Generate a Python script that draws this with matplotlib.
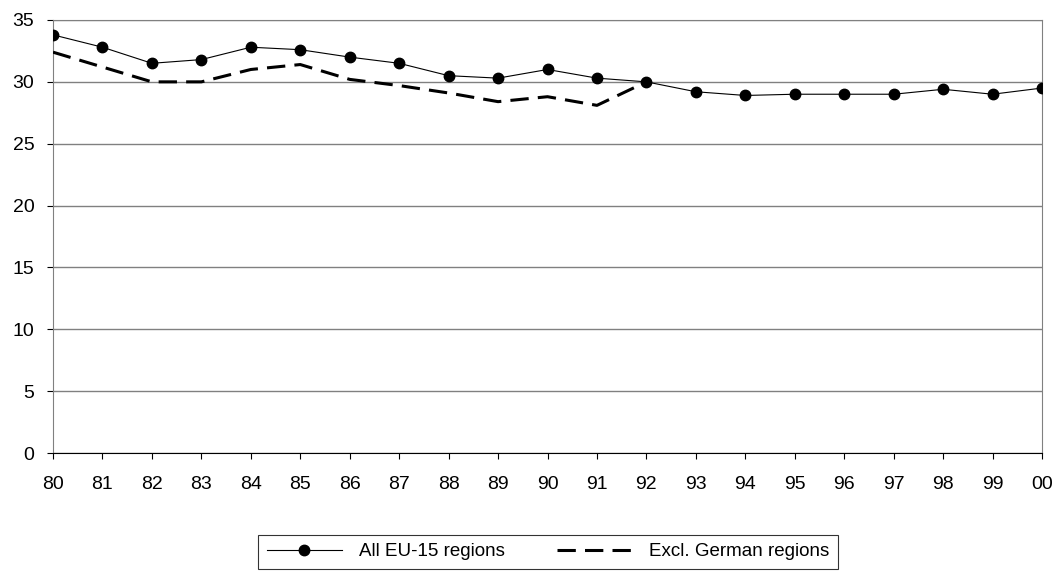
import matplotlib.pyplot as plt

plt.rcParams['font.family'] = ['Liberation Sans', 'DejaVu Sans']

years = ['80', '81', '82', '83', '84', '85', '86', '87', '88', '89', '90',
         '91', '92', '93', '94', '95', '96', '97', '98', '99', '00']
all_eu15 = [33.8, 32.8, 31.5, 31.8, 32.8, 32.6, 32.0, 31.5, 30.5, 30.3, 31.0,
            30.3, 30.0, 29.2, 28.9, 29.0, 29.0, 29.0, 29.4, 29.0, 29.5]
excl_german = [32.4, 31.2, 30.0, 30.0, 31.0, 31.4, 30.2, 29.7, 29.1, 28.4, 28.8,
               28.1, 30.0]

x = list(range(len(years)))

fig = plt.figure(figsize=(10.58, 5.74), dpi=100)
ax = fig.add_axes([53 / 1058, 1 - 453 / 574, 989 / 1058, 433 / 574])

ax.plot(x, all_eu15, color='black', linewidth=0.8, marker='o', markersize=7.5,
        label='All EU-15 regions', zorder=3)
ax.plot(x[:len(excl_german)], excl_german, color='black', linewidth=2.2,
        linestyle=(0, (6, 3)), label='Excl. German regions', zorder=3)

ax.set_xlim(0, len(years) - 1)
ax.set_ylim(0, 35)
ax.set_yticks(range(0, 36, 5))
ax.set_xticks(x)
ax.set_xticklabels(years)
ax.yaxis.grid(True, color='#808080', linewidth=1)
ax.set_axisbelow(True)

for side in ['top', 'right', 'left']:
    ax.spines[side].set_color('#808080')
ax.spines['bottom'].set_color('black')
ax.tick_params(axis='both', labelsize=14, direction='out', length=4.5,
               color='black')
ax.tick_params(axis='y', pad=9)
ax.tick_params(axis='x', pad=12)

leg = fig.legend(loc='center', bbox_to_anchor=(548 / 1058, 1 - 551.5 / 574),
                 ncol=2, fontsize=13.5, frameon=True, fancybox=False,
                 handlelength=4, columnspacing=2.8, borderpad=0.45,
                 handletextpad=0.9)
leg.get_frame().set_edgecolor('black')
leg.get_frame().set_linewidth(0.8)

fig.savefig('out.png', dpi=100)
